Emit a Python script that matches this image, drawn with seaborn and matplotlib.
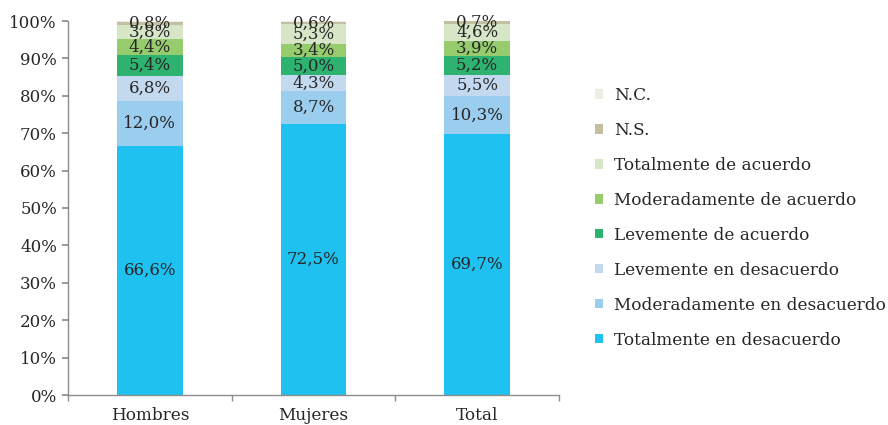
import numpy as np
import pandas as pd
import seaborn as sns
import matplotlib
matplotlib.use("Agg")
import matplotlib.pyplot as plt
from matplotlib.patches import Patch
from matplotlib.ticker import FixedLocator, PercentFormatter

categories = ["Hombres", "Mujeres", "Total"]
series_names = ["Totalmente en desacuerdo", "Moderadamente en desacuerdo",
                "Levemente en desacuerdo", "Levemente de acuerdo",
                "Moderadamente de acuerdo", "Totalmente de acuerdo",
                "N.S.", "N.C."]
totalmente_desacuerdo = [66.6, 72.5, 69.7]
moderadamente_desacuerdo = [12.0, 8.7, 10.3]
levemente_desacuerdo = [6.8, 4.3, 5.5]
levemente_acuerdo = [5.4, 5.0, 5.2]
moderadamente_acuerdo = [4.4, 3.4, 3.9]
totalmente_acuerdo = [3.8, 5.3, 4.6]
ns = [0.8, 0.6, 0.7]
nc = [0.2, 0.2, 0.1]
show_label = [True, True, True, True, True, True, True, False]
colors = ["#1FC1F0", "#9BCDEE", "#C3D9F0", "#2DB36F",
          "#96CC6E", "#D6E6C7", "#C4BFA0", "#EEEEE6"]

values = [totalmente_desacuerdo, moderadamente_desacuerdo, levemente_desacuerdo,
          levemente_acuerdo, moderadamente_acuerdo, totalmente_acuerdo, ns, nc]

sns.set_theme(style="white")
plt.rcParams["font.family"] = ["DejaVu Serif"]
txt = "#262626"

fig = plt.figure(figsize=(8.88, 4.25), dpi=100)
ax = fig.add_axes([68/888, 30/425, (559-68)/888, (395-21)/425])

vals = np.array(values)
cum = np.cumsum(vals, axis=0)
# draw from top-most cumulative down so lower segments overlay
for i in range(len(series_names) - 1, -1, -1):
    df = pd.DataFrame({"cat": categories, "val": cum[i]})
    sns.barplot(data=df, x="cat", y="val", color=colors[i], width=0.4,
                ax=ax, saturation=1, edgecolor="none", linewidth=0)

for i in range(len(series_names)):
    if not show_label[i]:
        continue
    for j in range(len(categories)):
        v = vals[i, j]
        y = cum[i, j] - v / 2
        ax.text(j, y, f"{v:.1f}%".replace(".", ","), ha="center", va="center",
                fontsize=12, color=txt)

ax.set_ylim(0, 100)
ax.set_xlim(-0.5, 2.5)
ax.yaxis.set_major_locator(FixedLocator(np.arange(0, 101, 10)))
ax.yaxis.set_major_formatter(PercentFormatter(decimals=0))
ax.set_xlabel("")
ax.set_ylabel("")
for s in ["top", "right"]:
    ax.spines[s].set_visible(False)
for s in ["left", "bottom"]:
    ax.spines[s].set_color("#8c8c8c")
    ax.spines[s].set_linewidth(1)
ax.tick_params(axis="y", left=True, length=4, color="#8c8c8c", labelsize=12,
               labelcolor=txt, pad=4)
ax.tick_params(axis="x", which="major", length=0, labelsize=12.2, labelcolor=txt, pad=9)
ax.xaxis.set_minor_locator(FixedLocator([-0.5, 0.5, 1.5, 2.5]))
ax.tick_params(axis="x", which="minor", bottom=True, length=4, color="#8c8c8c")

handles = [Patch(facecolor=colors[i], edgecolor="none") for i in range(len(series_names))][::-1]
labels = series_names[::-1]
leg = fig.legend(handles, labels, loc="upper left", bbox_to_anchor=(595/888, 1 - 87/425),
                 frameon=False, fontsize=12.2, handlelength=0.47, handleheight=0.47,
                 handletextpad=0.65, labelspacing=1.06, borderpad=0, borderaxespad=0,
                 labelcolor=txt)

fig.savefig("out.png", dpi=100)
